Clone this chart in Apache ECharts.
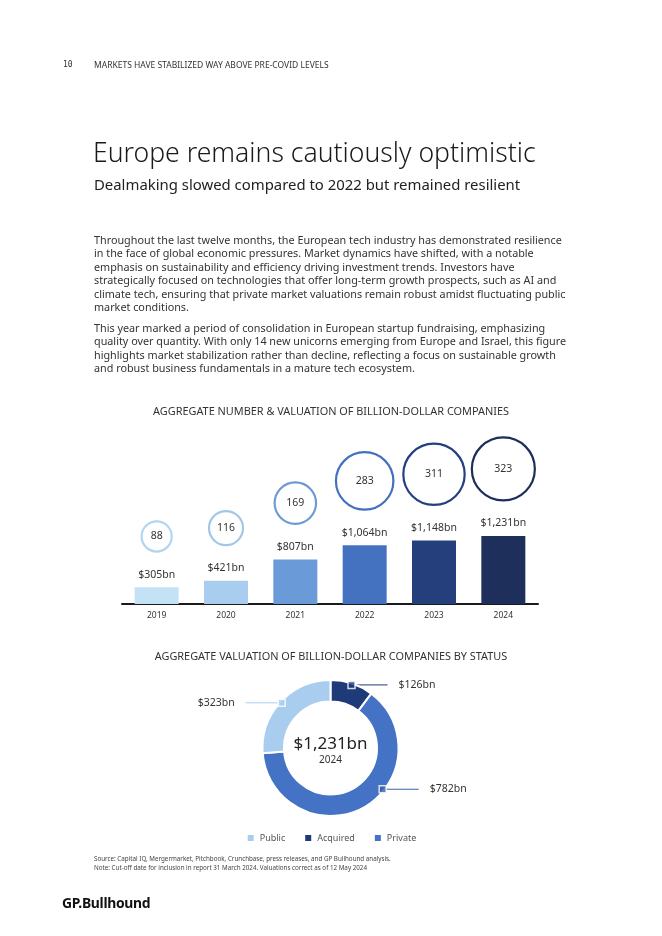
<!DOCTYPE html>
<html>
<head>
<meta charset="utf-8">
<script src="https://cdn.jsdelivr.net/npm/echarts@6/dist/echarts.min.js"></script>
<style>
  html, body { margin:0; padding:0; background:#fff; }
  body { width:662px; height:936px; position:relative; overflow:hidden; font-family:"Noto Sans", sans-serif; color:#222; }
  #chart { position:absolute; left:0; top:0; width:662px; height:936px; }
  .t { position:absolute; white-space:nowrap; }
  #pnum { left:63px; top:60px; font-size:8px; color:#333; font-family:"DejaVu Sans Mono", monospace; }
  #phead { left:94px; top:59px; font-size:8.5px; color:#333; }
  #title { left:93px; top:134px; font-size:26.6px; font-weight:300; color:#1a1a1a; line-height:36px; }
  #sub { left:94px; top:174px; font-size:14.9px; color:#222; line-height:20px; }
  .body { left:94px; font-size:10.8px; line-height:13.45px; color:#333; }
  #p1 { top:233px; }
  #p2 { top:321px; }
  #src { left:94px; top:854px; font-size:6.25px; line-height:9px; color:#444; }
  #logo { left:62px; top:893px; font-size:13.9px; font-weight:700; color:#111; letter-spacing:-0.3px; }
</style>
</head>
<body>
<div id="chart"></div>
<div class="t" id="pnum">10</div>
<div class="t" id="phead">MARKETS HAVE STABILIZED WAY ABOVE PRE-COVID LEVELS</div>
<div class="t" id="title">Europe remains cautiously optimistic</div>
<div class="t" id="sub">Dealmaking slowed compared to 2022 but remained resilient</div>
<div class="t body" id="p1">Throughout the last twelve months, the European tech industry has demonstrated resilience<br>in the face of global economic pressures. Market dynamics have shifted, with a notable<br>emphasis on sustainability and efficiency driving investment trends. Investors have<br>strategically focused on technologies that offer long-term growth prospects, such as AI and<br>climate tech, ensuring that private market valuations remain robust amidst fluctuating public<br>market conditions.</div>
<div class="t body" id="p2">This year marked a period of consolidation in European startup fundraising, emphasizing<br>quality over quantity. With only 14 new unicorns emerging from Europe and Israel, this figure<br>highlights market stabilization rather than decline, reflecting a focus on sustainable growth<br>and robust business fundamentals in a mature tech ecosystem.</div>
<div class="t" id="src">Source: Capital IQ, Mergermarket, Pitchbook, Crunchbase, press releases, and GP Bullhound analysis.<br>Note: Cut-off date for inclusion in report 31 March 2024. Valuations correct as of 12 May 2024</div>
<div class="t" id="logo">GP.Bullhound</div>
<script>
// ---- data ----
const years = ['2019', '2020', '2021', '2022', '2023', '2024'];
const valuations = [305, 421, 807, 1064, 1148, 1231];   // $bn
const counts = [88, 116, 169, 283, 311, 323];            // number of companies
const statusNames = ['Acquired', 'Private', 'Public'];
const statusValues = [126, 782, 323];                    // $bn, 2024
const legendOrder = ['Public', 'Acquired', 'Private'];
const chartTitle1 = 'AGGREGATE NUMBER & VALUATION OF BILLION-DOLLAR COMPANIES';
const chartTitle2 = 'AGGREGATE VALUATION OF BILLION-DOLLAR COMPANIES BY STATUS';

// ---- styles ----
const FONT = '"Noto Sans", sans-serif';
const barColors = ['#c3e2f5', '#a8cdee', '#6a9bd8', '#4571c1', '#243f7c', '#1f2f5b'];
const bubbleColors = ['#b4d5f0', '#a2c7ea', '#6d9ad6', '#4470c0', '#24407f', '#1f2d5a'];
const statusColors = { Public: '#a9cdee', Acquired: '#1f3a78', Private: '#4472c4' };
const lineColors = { Public: '#a9cdee', Acquired: '#1f3a78', Private: '#3a62a8' };
const markerFrac = { Public: 0.5, Acquired: 0.5, Private: 0.4 };
const pieCenter = [330.5, 748];
const pieR = [46.5, 68];

const fmtBn = v => '$' + v.toLocaleString('en-US') + 'bn';
const total = statusValues.reduce((a, b) => a + b, 0);

// marker angles derived from data
const markerVals = [];
let acc = 0;
statusValues.forEach((v, i) => { markerVals.push(acc + markerFrac[statusNames[i]] * v); acc += v; });

const chart = echarts.init(document.getElementById('chart'), null, { renderer: 'canvas' });

chart.setOption({
  animation: false,
  textStyle: { fontFamily: FONT },
  title: [
    { text: chartTitle1, left: 'center', top: 401, textStyle: { fontSize: 10.9, fontWeight: 'normal', color: '#333', fontFamily: FONT } },
    { text: chartTitle2, left: 'center', top: 646, textStyle: { fontSize: 10.9, fontWeight: 'normal', color: '#333', fontFamily: FONT } }
  ],
  grid: { left: 122, width: 416, top: 404, height: 200, containLabel: false },
  xAxis: {
    type: 'category', data: years,
    axisLine: { show: true, lineStyle: { color: '#1a1a1a', width: 2 } },
    axisTick: { show: false },
    axisLabel: { fontSize: 8.5, color: '#333', margin: 7, fontFamily: FONT }
  },
  yAxis: { type: 'value', min: 0, max: 3620, show: false, splitLine: { show: false } },
  polar: { center: pieCenter, radius: pieR[1] },
  angleAxis: { type: 'value', min: 0, max: total, startAngle: 90, clockwise: true, show: false },
  radiusAxis: { type: 'value', min: 0, max: pieR[1], show: false },
  legend: {
    data: legendOrder, left: 'center', top: 828, icon: 'rect', itemWidth: 8, itemHeight: 8, itemGap: 18,
    textStyle: { fontSize: 9, color: '#555', fontFamily: FONT }
  },
  graphic: [
    { type: 'text', x: pieCenter[0], y: pieCenter[1] - 4, style: { text: fmtBn(total), align: 'center', verticalAlign: 'middle', font: '17px ' + FONT, fill: '#222' } },
    { type: 'text', x: pieCenter[0], y: pieCenter[1] + 12, style: { text: years[years.length - 1], align: 'center', verticalAlign: 'middle', font: '10px ' + FONT, fill: '#333' } }
  ],
  series: [
    {
      type: 'bar', barWidth: 44,
      data: valuations.map((v, i) => ({ value: v, itemStyle: { color: barColors[i] } })),
      label: { show: true, position: 'top', distance: 7, formatter: p => fmtBn(p.value), fontSize: 10.5, color: '#333', fontFamily: FONT }
    },
    {
      type: 'custom', coordinateSystem: 'cartesian2d', clip: false, z: 3,
      data: years.map((y, i) => [i, valuations[i], counts[i]]),
      encode: { x: 0, y: 1 },
      renderItem: (params, api) => {
        const i = params.dataIndex;
        const top = api.coord([api.value(0), api.value(1)]);
        const r = 10 + 0.07 * api.value(2);
        const cy = top[1] - 34.5 - r;
        return {
          type: 'group', children: [
            { type: 'circle', shape: { cx: top[0], cy: cy, r: r - 1.1 }, style: { fill: '#fff', stroke: bubbleColors[i], lineWidth: 2.2 } },
            { type: 'text', style: { text: String(api.value(2)), x: top[0], y: cy, align: 'center', verticalAlign: 'middle', font: '10.5px ' + FONT, fill: '#333' } }
          ]
        };
      }
    },
    {
      type: 'pie', center: pieCenter, radius: pieR, startAngle: 90, clockwise: true,
      avoidLabelOverlap: false,
      data: statusNames.map((n, i) => ({ name: n, value: statusValues[i], itemStyle: { color: statusColors[n] }, labelLine: { lineStyle: { color: lineColors[n] } } })),
      itemStyle: { borderColor: '#fff', borderWidth: 2 },
      label: { show: true, position: 'outside', formatter: p => fmtBn(p.value), fontSize: 10.5, color: '#333', fontFamily: FONT },
      labelLine: { show: true, length: 10, length2: 10, lineStyle: { width: 1 } },
      labelLayout: params => {
        const i = params.dataIndex;
        const a = markerVals[i] / total * Math.PI * 2;
        const px = pieCenter[0] + (pieR[1] - 1.5) * Math.sin(a);
        const py = pieCenter[1] - (pieR[1] - 1.5) * Math.cos(a);
        const dir = Math.sin(a) >= 0 ? 1 : -1;
        const ex = px + dir * 36;
        return {
          x: ex + dir * 11, y: py, align: dir > 0 ? 'left' : 'right', verticalAlign: 'middle',
          labelLinePoints: [[px, py], [ex, py], [ex, py]]
        };
      }
    },
    {
      type: 'scatter', coordinateSystem: 'polar', symbol: 'rect', symbolSize: 7, z: 5,
      data: statusNames.map((n, i) => ({ value: [pieR[1] - 1.5, markerVals[i]], itemStyle: { color: lineColors[n], borderColor: '#fff', borderWidth: 1.5 } })),
      silent: true
    }
  ]
});
</script>
</body>
</html>
